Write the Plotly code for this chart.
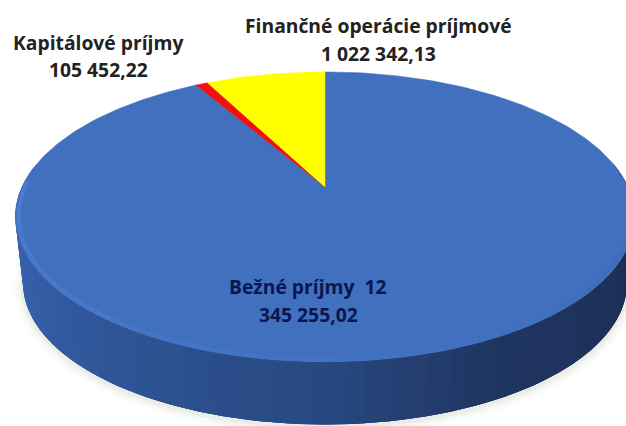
import numpy as np
import plotly.graph_objects as go

# Data (clockwise from 12 o'clock)
categories = ["Bežné príjmy", "Kapitálové príjmy", "Finančné operácie príjmové"]
values = [12345255.02, 105452.22, 1022342.13]
slice_colors = ["#4070BE", "#F01010", "#FFFF00"]
label_lines = [
    ["Bežné príjmy\u00a0 12", "345 255,02"],
    ["Kapitálové príjmy", "105 452,22"],
    ["Finančné operácie príjmové", "1 022 342,13"],
]

# Projection of the pie disc (perspective view)
CX, CY, A, B, K = 325.0, 187.0, 303.0, 138.8, 0.206
WALL_DY, WALL_S = 67.0, 0.975


def project(theta, r=1.0, dy=0.0, s=1.0):
    u, v = r * np.sin(theta), r * np.cos(theta)
    d = 1 + K * v
    return CX + s * A * u / d, CY + dy - s * B * v / d


def mix(c1, c2, t):
    return "rgb(%d,%d,%d)" % tuple(round(a + (b - a) * t) for a, b in zip(c1, c2))


fig = go.Figure()
no_hover = dict(hoverinfo="skip", showlegend=False)

# soft ground shadow
th = np.linspace(0, 2 * np.pi, 361)
for w, alpha in [(22, 0.012), (16, 0.018), (10, 0.025), (5, 0.04)]:
    x, y = project(th, dy=WALL_DY + 2, s=WALL_S)
    fig.add_trace(go.Scatter(x=x, y=y, mode="lines",
                             line=dict(color=f"rgba(60,50,20,{alpha})", width=w), **no_hover))

# side wall, shaded from left to right; each band overlaps the next to hide seams
stops = [(0.0, (60, 108, 190)), (0.25, (50, 90, 160)), (0.5, (40, 72, 128)),
         (0.63, (31, 54, 98)), (1.0, (26, 42, 78))]
n = 100
edges = np.radians(np.linspace(280, 80, n + 1))
for i in range(n):
    t = i / (n - 1)
    for (t0, c0), (t1, c1) in zip(stops, stops[1:]):
        if t0 <= t <= t1:
            col = mix(c0, c1, (t - t0) / (t1 - t0))
            break
    seg = edges[i:min(i + 4, n + 1)]
    xt, yt = project(seg)
    xb, yb = project(seg, dy=WALL_DY, s=WALL_S)
    fig.add_trace(go.Scatter(x=np.r_[xt, xb[::-1]], y=np.r_[yt, yb[::-1]], mode="none",
                             fill="toself", fillcolor=col, **no_hover))

# top face: slices from the data
fractions = np.array(values) / sum(values)
ends = np.cumsum(fractions) * 2 * np.pi
starts = np.r_[0, ends[:-1]]
for name, val, col, a0, a1 in zip(categories, values, slice_colors, starts, ends):
    arc = np.linspace(a0, a1, max(int(np.degrees(a1 - a0)), 2) + 1)
    x, y = project(arc)
    fig.add_trace(go.Scatter(x=np.r_[CX, x, CX], y=np.r_[CY, y, CY], mode="lines",
                             fill="toself", fillcolor=col, line=dict(color=col, width=0.5),
                             name=name, text=f"{name}: {val:,.2f}", hoverinfo="text", showlegend=False))

# highlight along the front rim of the top face
m = 60
rim = np.radians(np.linspace(272, 95, m + 1))
for i in range(m):
    t = i / (m - 1)
    col = mix((74, 124, 210), (60, 106, 182), t)
    x, y = project(rim[i:i + 2], r=0.99)
    fig.add_trace(go.Scatter(x=x, y=y, mode="lines", line=dict(color=col, width=4), **no_hover))

# labels
pos = [(308, 286, 314), (98, 42, 69), (378, 25, 53)]
colors = ["#0B1650", "#222222", "#222222"]
for lines, (px, y1, y2), c in zip(label_lines, pos, colors):
    for line, py in zip(lines, (y1, y2)):
        fig.add_annotation(x=px, y=py, xref="x", yref="y", text=f"<b>{line}</b>", showarrow=False,
                           font=dict(family="Open Sans", size=19.3, color=c))

fig.update_layout(
    width=626, height=426, margin=dict(l=0, r=0, t=0, b=0),
    paper_bgcolor="white", plot_bgcolor="white", showlegend=False,
    xaxis=dict(range=[0, 626], visible=False, fixedrange=True),
    yaxis=dict(range=[426, 0], visible=False, fixedrange=True),
)
fig.write_html("out.html", post_script="document.body.style.margin='0';", config={"displayModeBar": False})
